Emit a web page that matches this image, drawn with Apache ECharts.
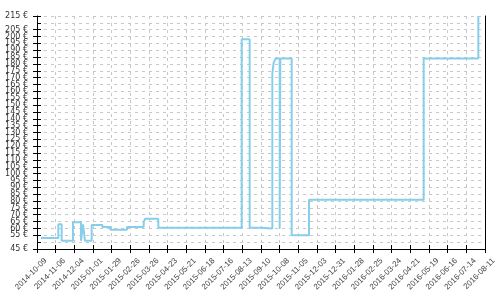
<!DOCTYPE html>
<html><head><meta charset="utf-8">
<script src="https://cdn.jsdelivr.net/npm/echarts@6/dist/echarts.min.js"></script>
<style>html,body{margin:0;padding:0;background:#fff}#c{width:500px;height:300px}</style>
</head><body><div id="c"></div>
<script>
// x axis: tick dates every 28 days
const startDate = '2014-10-09';
const endDate = '2016-08-11';
const tickDays = 28;
// y axis ticks (€)
const yMin = 45, yMax = 215, yStep = 5;
// price change points (step line)
const changeDates = [
  '2014-10-15','2014-11-10','2014-11-15','2014-12-02','2014-12-14','2014-12-17','2014-12-20',
  '2014-12-30','2015-01-15','2015-01-27','2015-02-21','2015-03-18','2015-03-20','2015-04-09',
  '2015-08-12','2015-08-24','2015-09-09','2015-09-27','2015-09-29','2015-10-02','2015-10-08',
  '2015-10-09','2015-10-26','2015-11-21','2016-05-11','2016-08-01'
];
const prices = [
  53, 63, 51, 64.5, 51, 63, 51,
  62.5, 61, 59, 61, 64.5, 67, 60.5,
  198, 60.5, 60, 173, 181, 184, 60,
  184, 55, 81, 184, 215
];

const DAY = 86400000;
const t0 = Date.parse(startDate + 'T00:00:00Z');
const toDay = s => Math.round((Date.parse(s + 'T00:00:00Z') - t0) / DAY);
const toDate = d => new Date(t0 + d * DAY).toISOString().slice(0, 10);
const xMax = toDay(endDate);
const data = changeDates.map((d, i) => [toDay(d), prices[i]]);

const chart = echarts.init(document.getElementById('c'));
const xFont = 'Liberation Sans, Arial, sans-serif';
const yFont = 'DejaVu Sans, sans-serif';
chart.setOption({
  animation: false,
  grid: { left: 37, right: 15, top: 16, bottom: 51, containLabel: false, outerBoundsMode: 'none' },
  xAxis: [
    { type: 'value', min: 0, max: xMax, interval: tickDays, position: 'bottom',
      axisLine: { lineStyle: { color: '#000', width: 1 } },
      axisTick: { length: 4, lineStyle: { color: '#000' } },
      axisLabel: { rotate: 45, fontSize: 8, color: '#444', fontFamily: xFont, margin: 19,
        padding: [0, -12, 0, 0], hideOverlap: false, showMinLabel: true, showMaxLabel: true,
        formatter: v => toDate(v) },
      splitLine: { show: true, lineStyle: { type: [3, 4], color: '#c8c8c8' } } },
    { type: 'value', min: 0, max: xMax, interval: tickDays, position: 'bottom',
      axisLine: { show: false },
      axisTick: { inside: true, length: 4, lineStyle: { color: '#000' } },
      axisLabel: { show: false }, splitLine: { show: false } }
  ],
  yAxis: [
    { type: 'value', min: yMin, max: yMax, interval: yStep, position: 'left',
      axisLine: { show: true, lineStyle: { color: '#000' } },
      axisTick: { show: true, length: 4, lineStyle: { color: '#000' } },
      axisLabel: { fontSize: 8, color: '#333', fontFamily: yFont, margin: 9,
        showMinLabel: true, showMaxLabel: true, hideOverlap: false,
        formatter: v => v + ' €' },
      splitLine: { show: true, lineStyle: { type: [3, 4], color: '#c8c8c8' } } },
    { type: 'value', min: yMin, max: yMax, interval: yStep, position: 'left',
      axisLine: { show: false },
      axisTick: { show: true, inside: true, length: 4, lineStyle: { color: '#000' } },
      axisLabel: { show: false }, splitLine: { show: false } },
    { type: 'value', min: yMin, max: yMax, interval: yStep, position: 'right',
      axisLine: { show: true, lineStyle: { color: '#000' } },
      axisTick: { show: false }, axisLabel: { show: false }, splitLine: { show: false } }
  ],
  series: [{
    type: 'line', step: 'end', data: data, symbol: 'none',
    xAxisIndex: 0, yAxisIndex: 0,
    lineStyle: { color: '#87CEEB', width: 2 }
  }]
});
</script>
</body></html>
